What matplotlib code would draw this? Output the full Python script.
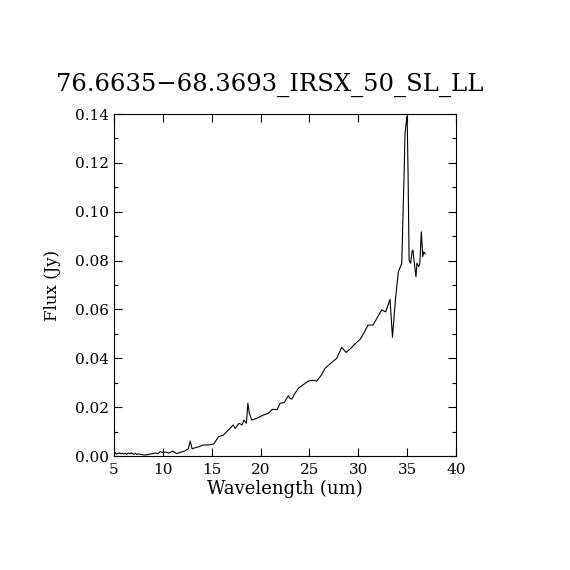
import matplotlib
matplotlib.use("Agg")
import matplotlib.pyplot as plt
from matplotlib.ticker import MultipleLocator

wavelength = [5.1, 5.25, 5.4, 5.55, 5.7, 5.85, 6.0, 6.15, 6.3, 6.45, 6.6, 6.75, 6.9, 7.05, 7.2,
              7.35, 7.5, 7.65, 7.8, 8.1, 8.4, 8.7, 9.0, 9.3, 9.5, 9.7,
              10.0, 10.3, 10.6, 11.0, 11.4, 11.8, 12.2, 12.6, 12.8, 13.0, 13.3, 13.7, 14.1,
              14.6, 15.2, 15.7, 16.2, 16.7, 17.2, 17.4, 17.8, 18.1, 18.3, 18.55, 18.7, 18.85,
              19.1, 19.6, 20.3, 20.8, 21.2, 21.7, 22.0, 22.4, 22.84, 23.0, 23.2, 23.5, 23.87,
              24.3, 24.9, 25.3, 25.75, 26.2, 26.6, 27.2, 27.8, 28.3, 28.75, 29.15, 29.7,
              30.2, 30.6, 31.0, 31.5, 32.0, 32.4, 32.8, 33.25, 33.5, 33.8, 34.1, 34.45,
              34.55, 34.7, 34.78, 34.95, 35.0, 35.1, 35.2, 35.35, 35.5, 35.6, 35.7, 35.9,
              36.0, 36.2, 36.3, 36.45, 36.6, 36.7, 36.85]
flux = [0.0014, 0.0008, 0.0010, 0.0013, 0.0009, 0.0012, 0.0008, 0.0011, 0.0007, 0.0012,
        0.0009, 0.0013, 0.0010, 0.0007, 0.0011, 0.0006, 0.0009, 0.0007, 0.0006, 0.0004,
        0.0005, 0.0008, 0.0010, 0.0012, 0.0009, 0.0018, 0.0014, 0.0016, 0.0012, 0.0020,
        0.0010, 0.0015, 0.0020, 0.0029, 0.0061, 0.0029, 0.0034, 0.0038, 0.0045, 0.0045,
        0.0049, 0.0079, 0.0086, 0.0106, 0.0127, 0.0113, 0.0134, 0.0127, 0.0147, 0.0134,
        0.0216, 0.0175, 0.0147, 0.0154, 0.0168, 0.0175, 0.0191, 0.0190, 0.0216, 0.0218,
        0.0247, 0.0236, 0.0233, 0.0255, 0.0277, 0.0290, 0.0307, 0.0310, 0.0307, 0.0330,
        0.0359, 0.0380, 0.0400, 0.0445, 0.0424, 0.0438, 0.0460, 0.0478, 0.0505, 0.0536,
        0.0536, 0.0570, 0.0598, 0.0590, 0.0641, 0.0486, 0.0639, 0.0754, 0.0789, 0.0946,
        0.1170, 0.1320, 0.1380, 0.1390, 0.1140, 0.0802, 0.0789, 0.0836, 0.0843, 0.0802,
        0.0734, 0.0789, 0.0775, 0.0789, 0.0918, 0.0816, 0.0836, 0.0827]

title = "76.6635\u221268.3693_IRSX_50_SL_LL"
xlabel = "Wavelength (um)"
ylabel = "Flux (Jy)"

plt.rcParams['font.family'] = ['DejaVu Serif']

fig = plt.figure(figsize=(5.7, 5.7), dpi=100)
ax = fig.add_axes([0.2, 0.2, 0.6, 0.6])
ax.plot(wavelength, flux, color='black', linewidth=0.8)
ax.set_xlim(5, 40)
ax.set_ylim(0, 0.14)
ax.xaxis.set_major_locator(MultipleLocator(5))
ax.yaxis.set_major_locator(MultipleLocator(0.02))
ax.yaxis.set_minor_locator(MultipleLocator(0.01))
ax.yaxis.set_major_formatter(plt.FormatStrFormatter('%.2f'))
ax.tick_params(which='both', direction='in', top=True, right=True, labelsize=11, width=0.8)
ax.tick_params(axis='x', pad=5)
ax.tick_params(which='major', length=6)
ax.tick_params(which='minor', length=3)
for s in ax.spines.values():
    s.set_linewidth(0.8)
ax.set_xlabel(xlabel, fontsize=13, labelpad=2)
ax.set_ylabel(ylabel, fontsize=12, labelpad=10)
fig.text(0.474, 1 - 85 / 570, title, fontsize=17.5, ha='center', va='center')
fig.savefig("out.png", dpi=100, facecolor='white')
